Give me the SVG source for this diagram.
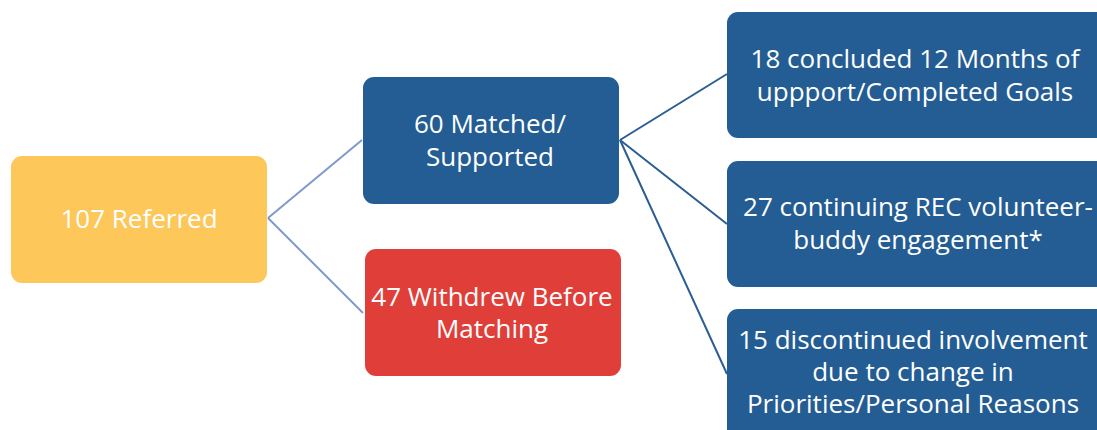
<svg xmlns="http://www.w3.org/2000/svg" width="1097" height="430" viewBox="0 0 1097 430">
  <style>
    .box { stroke: none; }
    .yellow { fill: #FDC75A; }
    .blue { fill: #245D94; }
    .red { fill: #E03E39; }
    .label { font-family: "Open Sans", "Noto Sans", sans-serif; font-size: 26px; fill: #FFFFFF; text-anchor: middle; }
    .link-light { stroke: #7D9ACB; stroke-width: 2; fill: none; }
    .link-dark { stroke: #2B5C93; stroke-width: 2; fill: none; }
  </style>
  <rect width="1097" height="430" fill="#FFFFFF"/>

  <!-- connectors -->
  <g id="connectors">
    <path class="link-light" d="M268,218 L362,140"/>
    <path class="link-light" d="M268,218 L363,313"/>
    <path class="link-dark" d="M620,140 L727,74"/>
    <path class="link-dark" d="M620,140 L727,224"/>
    <path class="link-dark" d="M620,140 L727,374"/>
  </g>

  <g id="referred">
    <rect class="box yellow" x="11" y="156" width="256" height="127" rx="11"/>
    <text class="label" x="139" y="228">107 Referred</text>
  </g>

  <g id="matched">
    <rect class="box blue" x="363" y="77" width="256" height="127" rx="11"/>
    <text class="label" x="490" y="133">60 Matched/</text>
    <text class="label" x="490" y="166">Supported</text>
  </g>

  <g id="withdrew">
    <rect class="box red" x="365" y="249" width="256" height="127" rx="11"/>
    <text class="label" x="492" y="306">47 Withdrew Before</text>
    <text class="label" x="492" y="338">Matching</text>
  </g>

  <g id="concluded">
    <rect class="box blue" x="727" y="12" width="380" height="126" rx="11"/>
    <text class="label" x="915" y="68">18 concluded 12 Months of</text>
    <text class="label" x="915" y="101">uppport/Completed Goals</text>
  </g>

  <g id="continuing">
    <rect class="box blue" x="727" y="161" width="380" height="126" rx="11"/>
    <text class="label" x="918" y="216">27 continuing REC volunteer-</text>
    <text class="label" x="918" y="249">buddy engagement*</text>
  </g>

  <g id="discontinued">
    <rect class="box blue" x="727" y="309" width="380" height="140" rx="11"/>
    <text class="label" x="913" y="349">15 discontinued involvement</text>
    <text class="label" x="913" y="381">due to change in</text>
    <text class="label" x="913" y="413">Priorities/Personal Reasons</text>
  </g>
</svg>
